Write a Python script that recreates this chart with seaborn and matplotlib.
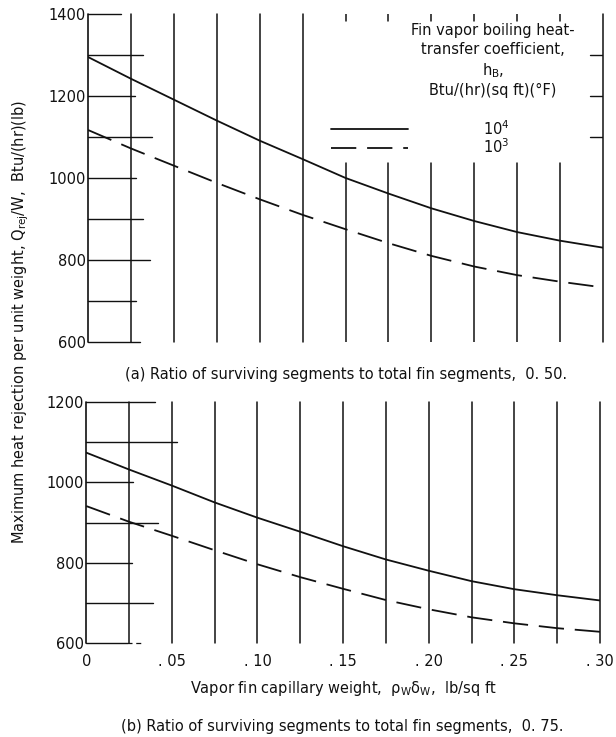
import matplotlib
matplotlib.use("Agg")
import matplotlib.pyplot as plt
import seaborn as sns
import pandas as pd

# Vapor fin capillary weight, lb/sq ft
capillary_weight = [0.0, 0.025, 0.05, 0.075, 0.10, 0.125, 0.15,
                    0.175, 0.20, 0.225, 0.25, 0.275, 0.30]

# (a) surviving segment ratio 0.50
a_hb_1e4 = [1295, 1242, 1191, 1140, 1091, 1046, 1000, 962, 926, 895, 868, 847, 830]
a_hb_1e3 = [1117, 1072, 1030, 988, 948, 910, 875, 841, 810, 784, 763, 747, 733]

# (b) surviving segment ratio 0.75
b_hb_1e4 = [1074, 1032, 992, 950, 912, 877, 841, 808, 780, 754, 734, 719, 706]
b_hb_1e3 = [941, 902, 867, 831, 796, 764, 735, 707, 684, 664, 649, 637, 628]

hb_levels = ["1e4", "1e3"]
hb_labels = ["$10^4$", "$10^3$"]

x_ticks = [0.0, 0.05, 0.10, 0.15, 0.20, 0.25, 0.30]
x_tick_labels = ["0", ". 05", ". 10", ". 15", ". 20", ". 25", ". 30"]
x_grid = [0.025, 0.05, 0.075, 0.10, 0.125, 0.15, 0.175, 0.20, 0.225, 0.25, 0.275, 0.30]

a_y_ticks = [600, 800, 1000, 1200, 1400]
b_y_ticks = [600, 800, 1000, 1200]

sns.set_style("white")
plt.rcParams["font.family"] = ["DejaVu Sans"]
plt.rcParams["font.stretch"] = "condensed"
plt.rcParams["mathtext.fontset"] = "custom"
plt.rcParams["mathtext.rm"] = "DejaVu Sans:stretch=condensed"
plt.rcParams["mathtext.it"] = "DejaVu Sans:stretch=condensed"

INK = "#111111"
FS = 11.7
GRID_LW = 1.1


def frame(x, s1, s2):
    return pd.DataFrame({
        "x": list(x) * 2,
        "q": list(s1) + list(s2),
        "hB": [hb_levels[0]] * len(x) + [hb_levels[1]] * len(x),
    })


fig = plt.figure(figsize=(6.16, 7.37), dpi=100)
ax1 = fig.add_axes([0.143, 0.536, 0.836, 0.445])
ax2 = fig.add_axes([0.140, 0.1275, 0.834, 0.327])

dash_map = {hb_levels[0]: "", hb_levels[1]: (14, 6)}

for ax, s1, s2 in ((ax1, a_hb_1e4, a_hb_1e3), (ax2, b_hb_1e4, b_hb_1e3)):
    sns.lineplot(data=frame(capillary_weight, s1, s2), x="x", y="q",
                 style="hB", style_order=hb_levels, dashes=dash_map,
                 color=INK, lw=1.3, legend=False, ax=ax, zorder=3)
    for s in ax.spines.values():
        s.set_visible(False)
    ax.set_xlim(0, 0.30)
    ax.set_xlabel("")
    ax.set_ylabel("")
    ax.tick_params(length=0, labelsize=FS, colors=INK, pad=1.5)

curve_handles = ax1.get_lines()[:2]

# ---- panel (a) ruling ----
ax1.set_ylim(600, 1400)
ax1.set_yticks(a_y_ticks)
ax1.set_xticks([])
ax1.axvline(0, color=INK, lw=GRID_LW + 0.1, clip_on=False)
for xv in x_grid:
    if 0.14 < xv < 0.29:
        # broken around the key
        ax1.axvline(xv, ymin=0, ymax=0.546, color=INK, lw=GRID_LW)
        ax1.axvline(xv, ymin=0.978, ymax=1, color=INK, lw=GRID_LW, zorder=5)
    else:
        ax1.axvline(xv, color=INK, lw=GRID_LW, clip_on=False)
a_stubs = {1400: 0.064, 1300: 0.107, 1200: 0.091, 1100: 0.124, 1000: 0.093,
           900: 0.107, 800: 0.12, 700: 0.093, 600: 0.10}
for yv, xm in a_stubs.items():
    ax1.axhline(yv, xmin=0, xmax=xm, color=INK, lw=1.0, clip_on=False)
for yv in (1300, 1200, 1100):
    ax1.axhline(yv, xmin=0.975, xmax=1, color=INK, lw=1.0)

# ---- panel (b) ruling ----
ax2.set_ylim(600, 1200)
ax2.set_yticks(b_y_ticks)
ax2.set_xticks(x_ticks)
ax2.set_xticklabels(x_tick_labels)
ax2.tick_params(axis="x", pad=8)
ax2.axvline(0, color=INK, lw=GRID_LW + 0.1, clip_on=False)
for xv in x_grid:
    ax2.axvline(xv, color=INK, lw=GRID_LW, clip_on=False)
b_stubs = {1200: 0.134, 1100: 0.177, 1000: 0.091, 900: 0.14, 800: 0.089,
           700: 0.13, 600: 0.08}
for yv, xm in b_stubs.items():
    ax2.axhline(yv, xmin=0, xmax=xm, color=INK, lw=1.0, clip_on=False)
ax2.axhline(600, xmin=0.08, xmax=0.11, color=INK, lw=0.9, ls=(0, (4, 3)),
            clip_on=False)

# ---- key ----
ax1.text(0.786, 0.972,
         "Fin vapor boiling heat-\ntransfer coefficient,\n$\\mathrm{h_B}$,\nBtu/(hr)(sq ft)(°F)",
         transform=ax1.transAxes, ha="center", va="top", fontsize=FS,
         color=INK, linespacing=1.3, multialignment="center")
ax1.legend(curve_handles, hb_labels, loc="upper left",
           bbox_to_anchor=(0.46, 0.70), frameon=False, fontsize=FS,
           handlelength=4.7, handletextpad=4.6, labelspacing=0.0,
           borderaxespad=0, labelcolor=INK)

# ---- captions and axis titles ----
fig.text(0.562, 1 - 375 / 737, "(a) Ratio of surviving segments to total fin segments,  0. 50.",
         ha="center", va="center", fontsize=FS, color=INK)
fig.text(0.555, 1 - 727 / 737, "(b) Ratio of surviving segments to total fin segments,  0. 75.",
         ha="center", va="center", fontsize=FS, color=INK)
fig.text(0.558, 1 - 688 / 737,
         "Vapor fin capillary weight,  $\\mathrm{\\rho_W\\delta_W}$,  lb/sq ft",
         ha="center", va="center", fontsize=FS, color=INK)
fig.text(0.034, 1 - 322 / 737,
         "Maximum heat rejection per unit weight, $\\mathrm{Q_{rej}/W}$,  Btu/(hr)(lb)",
         ha="center", va="center", rotation=90, fontsize=FS, color=INK)

fig.savefig("out.png", dpi=100)
